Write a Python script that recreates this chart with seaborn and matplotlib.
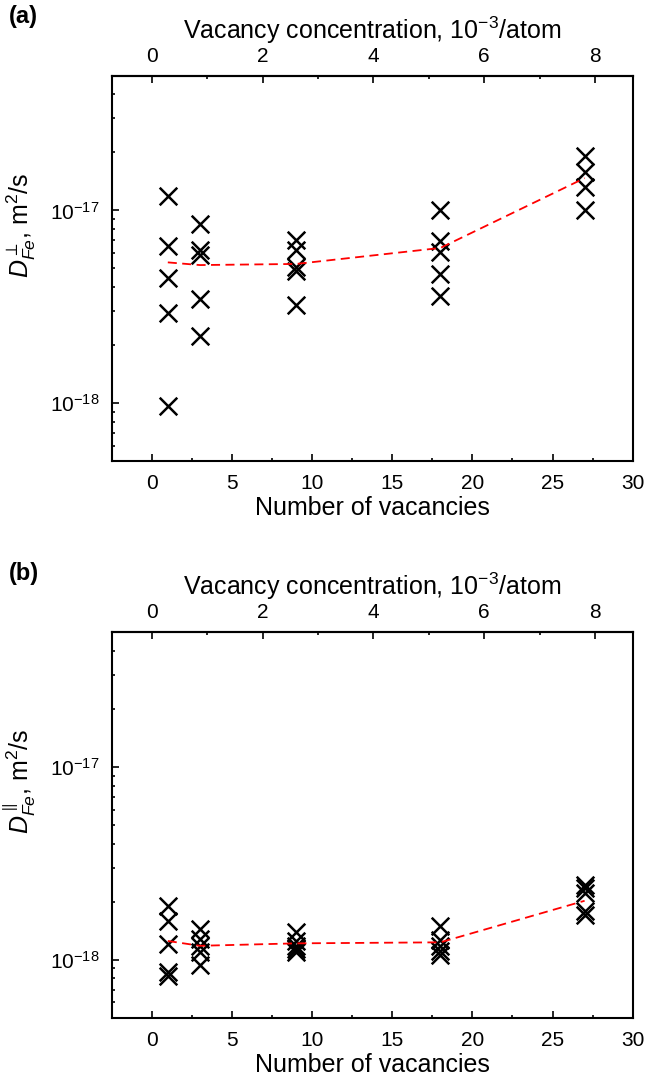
import matplotlib
matplotlib.use("Agg")
import numpy as np
import pandas as pd
import seaborn as sns
import matplotlib.pyplot as plt
from matplotlib.ticker import MultipleLocator, LogLocator, NullFormatter

# ---------------- data ----------------
n_vacancies = [1, 3, 9, 18, 27]
atoms_in_cell = 3456  # converts number of vacancies to concentration

perp_x = [1, 1, 1, 1, 1,
          3, 3, 3, 3, 3,
          9, 9, 9, 9, 9,
          18, 18, 18, 18, 18,
          27, 27, 27, 27]
perp_D = [1.19e-17, 6.5e-18, 4.43e-18, 2.93e-18, 9.7e-19,
          8.53e-18, 6.25e-18, 5.89e-18, 3.47e-18, 2.22e-18,
          7.05e-18, 6.25e-18, 5.08e-18, 4.82e-18, 3.24e-18,
          1.0e-17, 6.96e-18, 6.05e-18, 4.69e-18, 3.58e-18,
          1.92e-17, 1.59e-17, 1.32e-17, 1.0e-17]
perp_mean = [5.37e-18, 5.20e-18, 5.27e-18, 6.38e-18, 1.47e-17]

par_x = [1, 1, 1, 1, 1,
         3, 3, 3, 3, 3,
         9, 9, 9, 9, 9,
         18, 18, 18, 18, 18,
         27, 27, 27, 27, 27]
par_D = [1.90e-18, 1.59e-18, 1.205e-18, 8.6e-19, 8.2e-19,
         1.44e-18, 1.28e-18, 1.18e-18, 1.09e-18, 9.4e-19,
         1.39e-18, 1.25e-18, 1.18e-18, 1.14e-18, 1.09e-18,
         1.49e-18, 1.26e-18, 1.18e-18, 1.11e-18, 1.06e-18,
         2.45e-18, 2.35e-18, 2.22e-18, 1.78e-18, 1.70e-18]
par_mean = [1.25e-18, 1.18e-18, 1.215e-18, 1.23e-18, 2.02e-18]

bottom_label = "Number of vacancies"
top_label = "Vacancy concentration, 10$^{-3}$/atom"
perp_ylabel = r"$D^{\perp}_{Fe}$, m$^2$/s"
par_ylabel = r"$D^{\parallel}_{Fe}$, m$^2$/s"

# ---------------- style ----------------
sns.set_style("ticks")
plt.rcParams["font.family"] = ["Liberation Sans", "DejaVu Sans"]
plt.rcParams["mathtext.fontset"] = "custom"
plt.rcParams["mathtext.rm"] = "Liberation Sans"
plt.rcParams["mathtext.it"] = "Liberation Sans:italic"
plt.rcParams["mathtext.bf"] = "Liberation Sans:bold"
plt.rcParams["axes.unicode_minus"] = False
plt.rcParams["font.size"] = 15
plt.rcParams["axes.linewidth"] = 1.5
for key in ["text.color", "axes.labelcolor", "xtick.color", "ytick.color",
            "axes.edgecolor", "xtick.labelcolor", "ytick.labelcolor"]:
    plt.rcParams[key] = "black"

LABEL_SIZE = 18
TICK_SIZE = 15

W, H = 646, 1082
fig = plt.figure(figsize=(W / 100, H / 100), dpi=100)

ax_a = fig.add_axes([111.7 / W, 1 - 461.0 / H, 521.0 / W, 385.3 / H])
ax_b = fig.add_axes([111.7 / W, 1 - 1017.7 / H, 521.0 / W, 385.6 / H])


def to_conc(n):
    return np.asarray(n) * 1000.0 / atoms_in_cell


def to_n(c):
    return np.asarray(c) * atoms_in_cell / 1000.0


def draw_panel(ax, xs, ds, means, ylabel, tag, tag_y):
    df = pd.DataFrame({"n": xs, "D": ds})
    sns.scatterplot(data=df, x="n", y="D", ax=ax, marker="x", s=160,
                    color="black", linewidth=1.8, legend=False, zorder=2)
    mdf = pd.DataFrame({"n": n_vacancies, "D": means})
    sns.lineplot(data=mdf, x="n", y="D", ax=ax, color="red", linewidth=1.3,
                 legend=False, zorder=3)
    ax.lines[-1].set_linestyle((0, (5, 3)))

    ax.set_yscale("log")
    ax.set_xlim(-2.5, 30)
    ax.set_ylim(5e-19, 5e-17)
    ax.xaxis.set_major_locator(MultipleLocator(5))
    ax.xaxis.set_minor_locator(MultipleLocator(2.5))
    ax.yaxis.set_major_locator(LogLocator(base=10))
    ax.yaxis.set_minor_locator(LogLocator(base=10, subs=np.arange(2, 10)))
    ax.yaxis.set_minor_formatter(NullFormatter())
    ax.tick_params(axis="x", which="major", direction="in", length=5,
                   width=1.2, pad=9.5, top=False, labelsize=TICK_SIZE)
    ax.tick_params(axis="x", which="minor", direction="in", length=2.5,
                   width=1.2, top=False)
    ax.tick_params(axis="y", which="major", direction="in", length=5,
                   width=1.2, pad=8.5, right=False, labelsize=TICK_SIZE)
    ax.tick_params(axis="y", which="minor", direction="in", length=2.5,
                   width=1.2, right=False)
    for sp in ax.spines.values():
        sp.set_visible(True)
        sp.set_linewidth(1.5)
        sp.set_color("black")

    ax.set_xlabel(bottom_label, fontsize=LABEL_SIZE, labelpad=2)
    ax.set_ylabel(ylabel, fontsize=LABEL_SIZE)
    ax.yaxis.set_label_coords(-0.1415, 0.6125)

    sec = ax.secondary_xaxis("top", functions=(to_conc, to_n))
    sec.set_xticks([0, 2, 4, 6, 8])
    sec.xaxis.set_minor_locator(MultipleLocator(1))
    sec.tick_params(which="major", direction="in", length=5, width=1.2,
                    pad=7, labelsize=TICK_SIZE)
    sec.tick_params(which="minor", direction="in", length=2.5, width=1.2)
    sec.spines["top"].set_linewidth(1.5)
    sec.set_xlabel(top_label, fontsize=LABEL_SIZE, labelpad=6)

    fig.text(9 / W, 1 - tag_y / H, tag, ha="left", va="center",
             fontsize=17, fontweight="bold")


draw_panel(ax_a, perp_x, perp_D, perp_mean, perp_ylabel, "(a)", 17)
draw_panel(ax_b, par_x, par_D, par_mean, par_ylabel, "(b)", 573.4)

fig.savefig("out.png", dpi=100)
